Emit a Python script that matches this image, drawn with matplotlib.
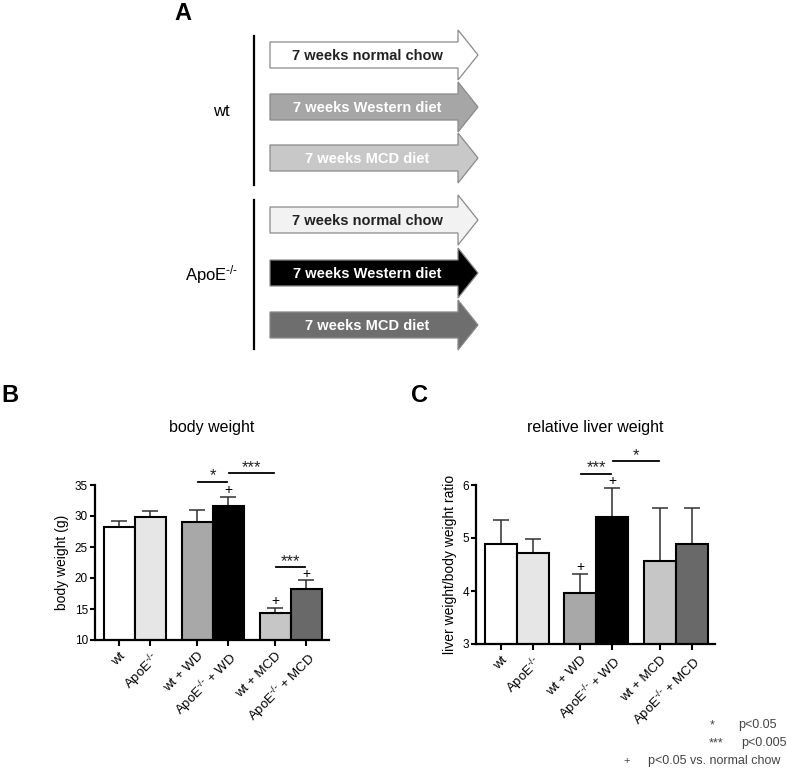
import matplotlib
matplotlib.use("Agg")
import matplotlib.pyplot as plt
from matplotlib.patches import Polygon

plt.rcParams["font.family"] = "Liberation Sans"
plt.rcParams["mathtext.fontset"] = "custom"
plt.rcParams["mathtext.rm"] = "Liberation Sans"
plt.rcParams["mathtext.it"] = "Liberation Sans:italic"
plt.rcParams["mathtext.bf"] = "Liberation Sans:bold"

# ---- data ----
ko = r"ApoE$^{\text{-/-}}$"
groups = ["wt", ko, "wt + WD", ko + " + WD", "wt + MCD", ko + " + MCD"]
body_weight = [28.2, 29.8, 29.0, 31.6, 14.3, 18.2]
body_weight_err = [1.0, 1.0, 1.9, 1.4, 0.8, 1.4]
liver_ratio = [4.89, 4.72, 3.96, 5.40, 4.56, 4.89]
liver_ratio_err = [0.45, 0.27, 0.37, 0.54, 1.00, 0.67]
body_plus = [3, 4, 5]           # p<0.05 vs. normal chow
liver_plus = [2, 3]
body_sig = [(2, 3, 35.5, "*"), (3, 4, 36.9, "***"), (4, 5, 21.7, "***")]
liver_sig = [(2, 3, 6.21, "***"), (3, 4, 6.45, "*")]

strains = ["wt", ko]
diets = ["7 weeks normal chow", "7 weeks Western diet", "7 weeks MCD diet"]
legend_items = [("*", "p<0.05"), ("***", "p<0.005"), ("+", "p<0.05 vs. normal chow")]

# ---- styles ----
bar_colors = ["#ffffff", "#e6e6e6", "#a8a8a8", "#000000", "#c6c6c6", "#696969"]
arrow_fill = ["#ffffff", "#a6a6a6", "#c8c8c8", "#f2f2f2", "#000000", "#6e6e6e"]
arrow_text = ["#222222", "#ffffff", "#ffffff", "#222222", "#ffffff", "#ffffff"]
xpos = [0, 1, 2.5, 3.5, 5, 6]

W, H = 787, 768
fig = plt.figure(figsize=(W / 100, H / 100), dpi=100)

# overlay in pixel coordinates for panel A, labels and the legend
ov = fig.add_axes([0, 0, 1, 1])
ov.set_xlim(0, W)
ov.set_ylim(H, 0)
ov.axis("off")

for lab, (x, y) in zip("ABC", [(183, 13), (10, 396), (420, 396)]):
    ov.text(x, y, lab, fontsize=17, fontweight="bold", ha="center", va="center")

# panel A: timeline arrows
centers = [55, 107, 158, 220, 273, 325]
x0, xb, xt, bh, hh = 270, 458, 478, 13, 25
for i, c in enumerate(centers):
    pts = [(x0, c - bh), (xb, c - bh), (xb, c - hh), (xt, c), (xb, c + hh),
           (xb, c + bh), (x0, c + bh)]
    ov.add_patch(Polygon(pts, closed=True, facecolor=arrow_fill[i],
                         edgecolor="#8a8a8a", linewidth=0.9))
    ov.text(367, c + 1, diets[i % 3], fontsize=10.5, fontweight="bold",
            color=arrow_text[i], ha="center", va="center")

ov.plot([254, 254], [36, 185], color="black", lw=1.6)
ov.plot([254, 254], [200, 349], color="black", lw=1.6)
ov.text(230, 112, strains[0], fontsize=12, ha="right", va="center")
ov.text(238, 275, strains[1], fontsize=12, ha="right", va="center")

# legend bottom right
leg_pos = [(712, 738, 725), (716, 741, 743), (627, 648, 761)]
for (sym, txt), (xs, xtx, yy) in zip(legend_items, leg_pos):
    if sym == "+":
        ov.text(xs, yy, sym, fontsize=8, color="#444444", ha="center", va="center")
    else:
        ov.text(xs, yy + 3, sym, fontsize=9, color="#444444", ha="center",
                va="baseline")
    ov.text(xtx, yy, txt, fontsize=9, color="#444444", ha="left", va="center")


def bar_panel(rect, vals, errs, ylim, yticks, ylabel, title, plus, sig):
    ax = fig.add_axes(rect)
    ax.bar(xpos, vals, width=1.0, color=bar_colors, edgecolor="black",
           linewidth=1.5, zorder=2)
    ax.errorbar(xpos, vals, yerr=[[0] * len(vals), errs], fmt="none",
                ecolor="#303030", elinewidth=1.1, capsize=6, capthick=1.1, zorder=1)
    ax.set_xlim(-0.78, 6.73)
    ax.set_ylim(*ylim)
    ax.set_yticks(yticks)
    ax.set_xticks(xpos)
    ax.set_xticklabels(groups, rotation=45, ha="right", va="top",
                       rotation_mode="anchor", fontsize=9.5)
    ax.tick_params(axis="y", labelsize=8.5, length=3.5, width=1.5, pad=1.5)
    ax.tick_params(axis="x", length=4, width=1.5, pad=3)
    for s in ["top", "right"]:
        ax.spines[s].set_visible(False)
    for s in ["left", "bottom"]:
        ax.spines[s].set_linewidth(1.6)
    ax.set_ylabel(ylabel, fontsize=10, labelpad=4)
    ax.set_title(title, fontsize=11.5, pad=38)
    for i in plus:
        ax.annotate("+", (xpos[i], vals[i] + errs[i]), xytext=(0, 5),
                    textcoords="offset points", ha="center", va="center",
                    fontsize=10, annotation_clip=False)
    for i, j, y, s in sig:
        ax.plot([xpos[i] + 0.03, xpos[j] - 0.03], [y, y], color="black",
                lw=1.3, clip_on=False)
        ax.annotate(s, ((xpos[i] + xpos[j]) / 2, y), xytext=(0, 1),
                    textcoords="offset points", ha="center", va="baseline",
                    fontsize=12, color="#222222", annotation_clip=False)
    return ax


bar_panel([95 / W, 1 - 640 / H, 234 / W, 155 / H], body_weight, body_weight_err,
          (10, 35), [10, 15, 20, 25, 30, 35], "body weight (g)", "body weight",
          body_plus, body_sig)
bar_panel([476 / W, 1 - 644 / H, 239 / W, 159 / H], liver_ratio, liver_ratio_err,
          (3, 6), [3, 4, 5, 6], "liver weight/body weight ratio",
          "relative liver weight", liver_plus, liver_sig)

fig.savefig("out.png", dpi=100)
